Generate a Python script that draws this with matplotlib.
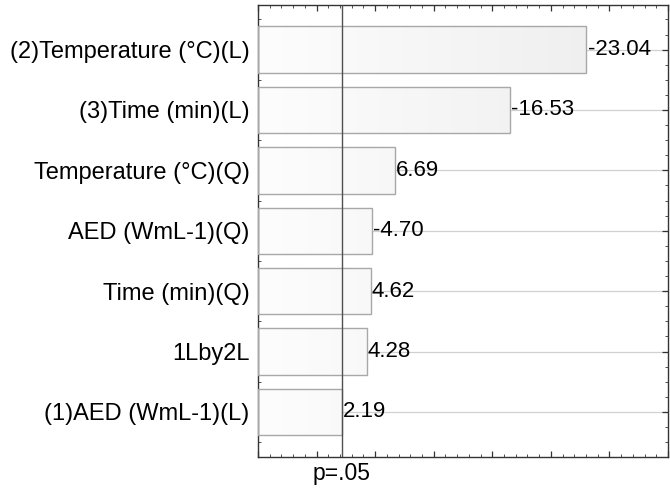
import numpy as np
import matplotlib.pyplot as plt
from matplotlib.colors import LinearSegmentedColormap
from matplotlib.ticker import MultipleLocator

plt.rcParams['font.family'] = ['Liberation Sans', 'DejaVu Sans']

# Pareto chart of standardized effects
effects = ["(2)Temperature (°C)(L)", "(3)Time (min)(L)", "Temperature (°C)(Q)",
           "AED (WmL-1)(Q)", "Time (min)(Q)", "1Lby2L", "(1)AED (WmL-1)(L)"]
values = [-23.04, -16.53, 6.69, -4.70, 4.62, 4.28, 2.19]
p_crit = 2.14
x_min, x_max = -5, 30

fig, ax = plt.subplots(figsize=(6.7, 4.92), dpi=100)
fig.subplots_adjust(left=0.385, right=0.997, top=0.99, bottom=0.072)

y = np.arange(len(effects))[::-1]
mags = np.abs(values)

ax.set_xlim(x_min, x_max)
ax.set_ylim(-0.74, len(effects) - 1 + 0.74)

# grid lines behind bars
for yy in y:
    ax.axhline(yy, color="#d0d0d0", lw=0.9, zorder=0)

cmap = LinearSegmentedColormap.from_list("g", ["#fdfdfd", "#ececec"])
grad = np.linspace(0, 1, 256).reshape(1, -1)
for yy, m, v in zip(y, mags, values):
    bar = ax.barh(yy, m - x_min, left=x_min, height=0.77, color="none",
                  edgecolor="#a8a8a8", lw=1.0, zorder=3)[0]
    im = ax.imshow(grad, cmap=cmap, aspect="auto",
                   extent=(x_min, x_max, yy - 0.385, yy + 0.385), zorder=2)
    im.set_clip_path(bar)
    ax.text(m + 0.1, yy, f"{v:.2f}", va="center", ha="left", fontsize=16, zorder=5)

ax.axvline(p_crit, color="#505050", lw=1.0, zorder=4)

ax.set_yticks(y)
ax.set_yticklabels(effects, fontsize=17)
ax.yaxis.set_minor_locator(MultipleLocator(0.25))
ax.xaxis.set_major_locator(MultipleLocator(5))
ax.xaxis.set_minor_locator(MultipleLocator(1))
ax.set_xticklabels([])
ax.tick_params(which="both", direction="in", top=True, right=True, color="#333333")
ax.tick_params(which="major", length=4, width=0.9)
ax.tick_params(which="minor", length=2, width=0.6)
ax.tick_params(axis="y", pad=6)

for s in ax.spines.values():
    s.set_color("#333333")
    s.set_linewidth(1.0)

ax.text(p_crit, -0.012, "p=.05", transform=ax.get_xaxis_transform(),
        ha="center", va="top", fontsize=16.5)

fig.savefig("out.png", dpi=100)
